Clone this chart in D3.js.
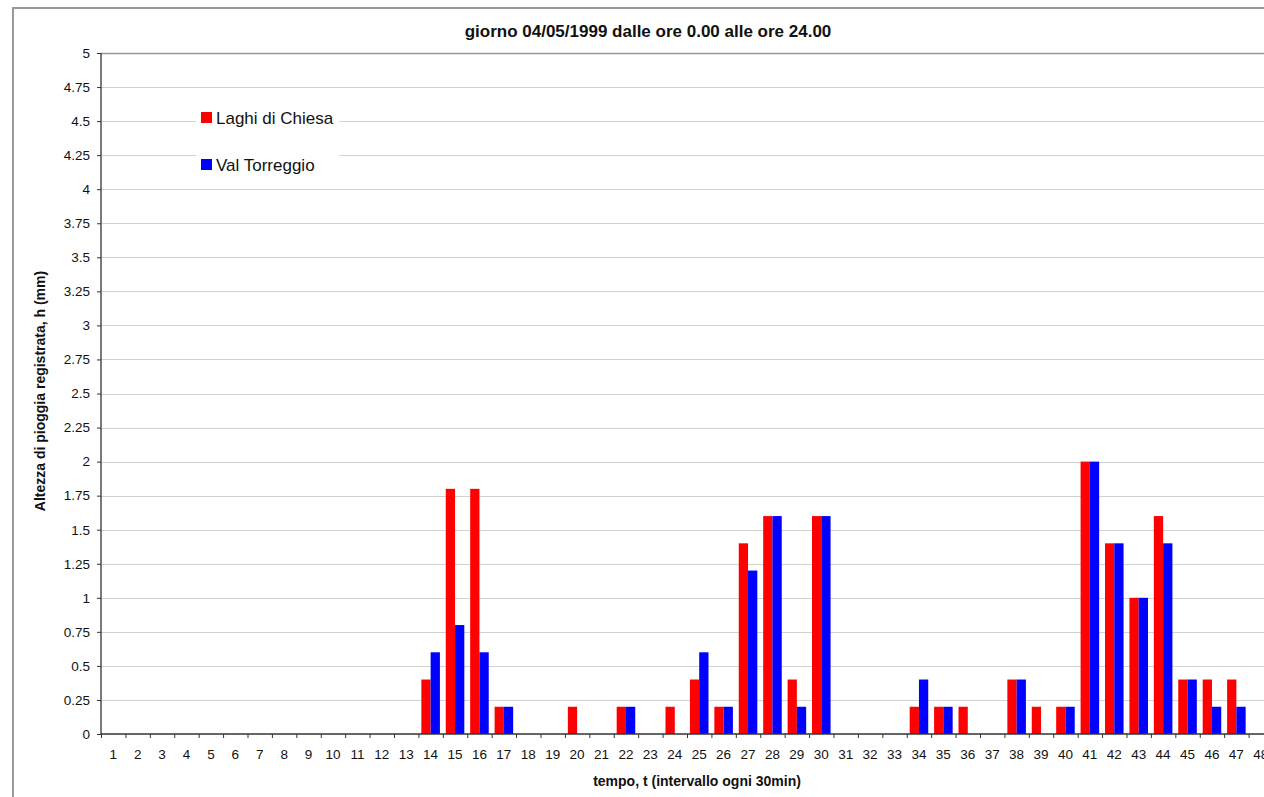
<!DOCTYPE html>
<meta charset="utf-8">
<head>
    <title>Pioggia 04/05/1999</title>
    <script src="https://d3js.org/d3.v7.min.js"></script>
</head>

<style>
body { margin: 0; background: #fff; }
svg { display: block; font-family: Arial, "Liberation Sans", sans-serif; }
.grid line { stroke: #d2d2d2; stroke-width: 1; }
.axis path, .axis line { stroke: #333; }
.axis text { font-size: 13.5px; fill: #111; font-family: Arial, "Liberation Sans", sans-serif; }
</style>

<body>

<svg></svg>

<script>

// intervals of 30 min, 1..48
let categories = d3.range(1, 49).map(String);

let seriesNames = ["Laghi di Chiesa", "Val Torreggio"];
let seriesColors = ["#ff0000", "#0000ff"];

let laghiDiChiesa = [
  0, 0, 0, 0, 0, 0, 0, 0, 0, 0, 0, 0, 0,
  0.4, 1.8, 1.8, 0.2, 0, 0, 0.2, 0, 0.2, 0, 0.2,
  0.4, 0.2, 1.4, 1.6, 0.4, 1.6, 0, 0, 0, 0.2,
  0.2, 0.2, 0, 0.4, 0.2, 0.2, 2.0, 1.4, 1.0, 1.6,
  0.4, 0.4, 0.4, 0
];

let valTorreggio = [
  0, 0, 0, 0, 0, 0, 0, 0, 0, 0, 0, 0, 0,
  0.6, 0.8, 0.6, 0.2, 0, 0, 0, 0, 0.2, 0, 0,
  0.6, 0.2, 1.2, 1.6, 0.2, 1.6, 0, 0, 0, 0.4,
  0.2, 0, 0, 0.4, 0, 0.2, 2.0, 1.4, 1.0, 1.4,
  0.4, 0.2, 0.2, 0
];

let yTicks = d3.range(0, 5.001, 0.25);

let title = "giorno 04/05/1999 dalle ore 0.00 alle ore 24.00";
let xTitle = "tempo, t (intervallo ogni 30min)";
let yTitle = "Altezza di pioggia registrata, h (mm)";

let W = 1264, H = 797;
let plot = {left: 101, right: 1273, top: 53, bottom: 734};

let svg = d3.select("svg").attr("width", W).attr("height", H);

// outer chart frame (runs past the window on the right and bottom)
svg.append("rect")
  .attr("x", 13).attr("y", 8)
  .attr("width", 1300).attr("height", 820)
  .attr("fill", "#fff")
  .attr("stroke", "#999").attr("stroke-width", 2);

// scales
let x = d3.scaleBand()
  .domain(categories)
  .range([plot.left, plot.right])
  .paddingInner(0.24)
  .paddingOuter(0.12);

let xs = d3.scaleBand()
  .domain(seriesNames)
  .range([0, x.bandwidth()]);

let xEdge = d3.scaleLinear()
  .domain([0, categories.length])
  .range([plot.left, plot.right]);

let y = d3.scaleLinear()
  .domain([0, 5])
  .range([plot.bottom, plot.top]);

// gridlines
svg.append("g")
  .attr("class", "grid")
  .selectAll("line")
  .data(yTicks.filter(d => d > 0 && d < 5))
  .enter().append("line")
  .attr("x1", plot.left).attr("x2", W + 20)
  .attr("y1", d => Math.round(y(d)) + 0.5)
  .attr("y2", d => Math.round(y(d)) + 0.5);

// top border of the plot area
svg.append("line")
  .attr("x1", plot.left).attr("x2", W + 20)
  .attr("y1", Math.round(y(5)) + 0.5).attr("y2", Math.round(y(5)) + 0.5)
  .attr("stroke", "#999").attr("stroke-width", 1.5);

// legend box (hides the gridlines behind it)
let legend = svg.append("g");
legend.append("rect")
  .attr("x", 196).attr("y", 100)
  .attr("width", 143).attr("height", 86)
  .attr("fill", "#fff");

seriesNames.forEach(function(name, i) {
  let ly = 112 + i * 47;
  legend.append("rect")
    .attr("x", 201).attr("y", ly)
    .attr("width", 11).attr("height", 11)
    .attr("fill", seriesColors[i]);
  legend.append("text")
    .attr("x", 216).attr("y", ly + 12)
    .style("font-size", "17px")
    .attr("fill", "#111")
    .text(name);
});

// bars
let rows = categories.map(function(c, i) {
  return {cat: c, values: [laghiDiChiesa[i], valTorreggio[i]]};
});

let groups = svg.append("g")
  .selectAll("g")
  .data(rows)
  .enter().append("g")
  .attr("transform", d => "translate(" + x(d.cat) + ",0)");

groups.selectAll("rect")
  .data(d => d.values.map((v, j) => ({name: seriesNames[j], value: v, color: seriesColors[j]})))
  .enter().append("rect")
  .filter(d => d.value > 0)
  .attr("x", d => xs(d.name))
  .attr("y", d => y(d.value))
  .attr("width", xs.bandwidth())
  .attr("height", d => y(0) - y(d.value))
  .attr("fill", d => d.color);

// y axis
svg.append("g")
  .attr("class", "axis")
  .attr("transform", "translate(" + plot.left + ",0)")
  .call(d3.axisLeft(y)
    .tickValues(yTicks)
    .tickSize(4)
    .tickPadding(7)
    .tickFormat(d => String(+d.toFixed(2))))
  .call(g => g.select(".domain").attr("d", "M0," + plot.top + "V" + plot.bottom).attr("stroke-width", 1.3));

// x axis: tick marks at category edges
svg.append("g")
  .attr("class", "axis")
  .attr("transform", "translate(0," + plot.bottom + ")")
  .call(d3.axisBottom(xEdge)
    .tickValues(d3.range(0, categories.length + 1))
    .tickSize(4)
    .tickFormat(""))
  .call(g => g.select(".domain").attr("d", "M" + plot.left + ",0H" + (W + 20)).attr("stroke-width", 1.3));

// x axis: labels centred on categories
svg.append("g")
  .attr("class", "axis")
  .attr("transform", "translate(0," + plot.bottom + ")")
  .call(d3.axisBottom(x).tickSize(0).tickPadding(15))
  .call(g => g.select(".domain").remove());

// titles
svg.append("text")
  .attr("x", 648).attr("y", 37)
  .attr("text-anchor", "middle")
  .style("font-size", "17px").style("font-weight", "bold")
  .attr("fill", "#111")
  .text(title);

svg.append("text")
  .attr("x", 697).attr("y", 786)
  .attr("text-anchor", "middle")
  .style("font-size", "14px").style("font-weight", "bold")
  .attr("fill", "#111")
  .text(xTitle);

svg.append("text")
  .attr("transform", "translate(45," + 391 + ") rotate(-90)")
  .attr("text-anchor", "middle")
  .style("font-size", "14px").style("font-weight", "bold")
  .attr("fill", "#111")
  .text(yTitle);

</script>

</body>
